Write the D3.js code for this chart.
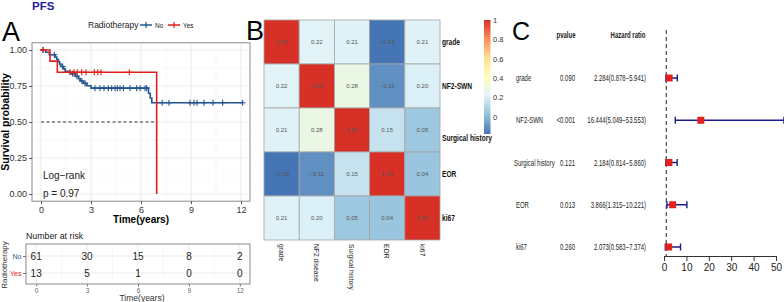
<!DOCTYPE html>
<html>
<head>
<meta charset="utf-8">
<script src="https://cdn.jsdelivr.net/npm/d3@7"></script>
<style>
  body { margin: 0; background: #fff; }
  text { font-family: 'Liberation Sans', Arial, sans-serif; }
</style>
</head>
<body>
<script>
// ---- Panel A: Kaplan-Meier data ----
var timeTicks = [0, 3, 6, 9, 12];
var survTicks = [0, 0.25, 0.5, 0.75, 1];
var noTime = [0, 0.28, 0.5, 0.85, 0.95, 1.05, 1.12, 1.2, 1.35, 1.45, 1.75, 2.05, 2.25, 2.35, 2.55, 2.75, 3.0, 6.45, 6.55, 6.65, 12.1];
var noSurv = [1, 0.984, 0.967, 0.951, 0.934, 0.918, 0.902, 0.885, 0.869, 0.852, 0.835, 0.818, 0.801, 0.785, 0.768, 0.752, 0.735, 0.70, 0.667, 0.634, 0.634];
var noCensor = [0.12, 0.8, 1.3, 1.9, 2.15, 2.45, 2.65, 3.24, 3.54, 3.78, 4.04, 4.24, 4.44, 4.58, 4.74, 4.94, 5.34, 5.74, 5.94, 6.24, 6.34, 7.27, 7.68, 8.94, 9.18, 9.36, 9.78, 10.32, 10.9, 12.1];
var yesTime = [0, 0.54, 0.98, 6.94];
var yesSurv = [1, 0.923, 0.846, 0];
var yesCensor = [0.12, 1.74, 1.98, 2.18, 2.44, 2.7, 3.2, 3.4, 3.6, 5.3];
var medianTime = 6.94;
var riskGroups = ["No", "Yes"];
var noRisk = [61, 30, 15, 8, 2];
var yesRisk = [13, 5, 1, 0, 0];

// ---- Panel B: correlation matrix ----
var rowVars = ["grade", "NF2-SWN", "Surgical history", "EOR", "ki67"];
var colVars = ["grade", "NF2 disease", "Surgical history", "EOR", "ki67"];
var corr = [
  [1.00, 0.22, 0.21, -0.18, 0.21],
  [0.22, 1.00, 0.28, -0.11, 0.20],
  [0.21, 0.28, 1.00, 0.15, 0.05],
  [-0.18, -0.11, 0.15, 1.00, 0.04],
  [0.21, 0.20, 0.05, 0.04, 1.00]
];
var legendTicks = [0, 0.2, 0.4, 0.6, 0.8, 1];

// ---- Panel C: Cox regression ----
var pvalues = ["0.090", "<0.001", "0.121", "0.013", "0.260"];
var hr = [2.284, 16.444, 2.184, 3.866, 2.073];
var hrLow = [0.878, 5.049, 0.814, 1.315, 0.583];
var hrHigh = [5.941, 53.553, 5.860, 10.221, 7.374];
var hrTicks = [0, 10, 20, 30, 40, 50];

var blue = "#25558f", red = "#e3211c";

var svg = d3.select("body").append("svg")
  .attr("width", 784).attr("height", 302);

// condensed text: no narrow font installed, so squeeze horizontally
function ntext(g, x, y, str, size, sx, anchor) {
  return g.append("text")
    .attr("transform", "translate(" + x + "," + y + ") scale(" + sx + ",1)")
    .attr("font-size", size).attr("text-anchor", anchor || "start").attr("fill", "#222")
    .text(str);
}

// ================= Panel A =================
var x = d3.scaleLinear().domain([-0.54, 12.54]).range([32, 250]);
var y = d3.scaleLinear().domain([-0.05, 1.05]).range([201.2, 42.8]);

svg.append("text").attr("x", 32).attr("y", 10)
  .attr("font-weight", "bold").attr("font-size", 11.5).attr("fill", "#1e1e9c").text("PFS");
svg.append("text").attr("x", 2).attr("y", 41).attr("font-size", 27).text("A");

// legend
var lg = svg.append("g").attr("font-size", 8.5).attr("fill", "#222");
lg.append("text").attr("x", 88).attr("y", 28).text("Radiotherapy");
[[blue, "No", 140], [red, "Yes", 168]].forEach(function(d) {
  lg.append("line").attr("x1", d[2]).attr("x2", d[2] + 12).attr("y1", 25).attr("y2", 25)
    .attr("stroke", d[0]).attr("stroke-width", 1.5);
  lg.append("path").attr("d", "M" + (d[2] + 6) + ",22v6").attr("stroke", d[0]).attr("stroke-width", 1.2);
  lg.append("text").attr("x", d[2] + 15).attr("y", 27.5).attr("font-size", 6.5).text(d[1]);
});

// grid
var gA = svg.append("g");
var minorX = timeTicks.slice(1).map(function(d) { return d - 1.5; });
var minorY = survTicks.slice(1).map(function(d) { return d - 0.125; });
gA.selectAll(".mx").data(minorX).enter().append("line")
  .attr("x1", x).attr("x2", x).attr("y1", y.range()[0]).attr("y2", y.range()[1])
  .attr("stroke", "#f2f2f2").attr("stroke-width", 0.6);
gA.selectAll(".my").data(minorY).enter().append("line")
  .attr("y1", y).attr("y2", y).attr("x1", x.range()[0]).attr("x2", x.range()[1])
  .attr("stroke", "#f2f2f2").attr("stroke-width", 0.6);
gA.selectAll(".gx").data(timeTicks).enter().append("line")
  .attr("x1", x).attr("x2", x).attr("y1", y.range()[0]).attr("y2", y.range()[1])
  .attr("stroke", "#e6e6e6").attr("stroke-width", 0.8);
gA.selectAll(".gy").data(survTicks).enter().append("line")
  .attr("y1", y).attr("y2", y).attr("x1", x.range()[0]).attr("x2", x.range()[1])
  .attr("stroke", "#e6e6e6").attr("stroke-width", 0.8);

// median lines
gA.append("path")
  .attr("d", "M" + x(0) + "," + y(0.5) + "H" + x(medianTime) + "V" + y(0))
  .attr("fill", "none").attr("stroke", "#222").attr("stroke-width", 0.9).attr("stroke-dasharray", "3,2.5");

// curves
var km = d3.line().x(function(d) { return x(d[0]); }).y(function(d) { return y(d[1]); }).curve(d3.curveStepAfter);
function stepAt(times, surv, t) {
  var i = d3.bisectRight(times, t) - 1;
  return surv[Math.max(0, i)];
}
function drawGroup(times, surv, cens, col) {
  gA.append("path").datum(d3.zip(times, surv)).attr("d", km)
    .attr("fill", "none").attr("stroke", col).attr("stroke-width", 1.6);
  gA.selectAll(null).data(cens).enter().append("path")
    .attr("d", function(t) {
      var cx = x(t), cy = y(stepAt(times, surv, t));
      return "M" + (cx - 3) + "," + cy + "H" + (cx + 3) + "M" + cx + "," + (cy - 3) + "V" + (cy + 3);
    })
    .attr("stroke", col).attr("stroke-width", 1.1);
}
drawGroup(noTime, noSurv, noCensor, blue);
drawGroup(yesTime, yesSurv, yesCensor, red);

// border
gA.append("rect").attr("x", 32).attr("y", 42.8).attr("width", 218).attr("height", 158.4)
  .attr("fill", "none").attr("stroke", "#8a8a8a").attr("stroke-width", 1);

// axes
var axL = svg.append("g").attr("transform", "translate(32,0)")
  .call(d3.axisLeft(y).tickValues(survTicks).tickFormat(d3.format(".2f")).tickSize(3).tickPadding(2));
var axB = svg.append("g").attr("transform", "translate(0,201.2)")
  .call(d3.axisBottom(x).tickValues(timeTicks).tickSize(3).tickPadding(2));
[axL, axB].forEach(function(a) {
  a.select(".domain").remove();
  a.selectAll("line").attr("stroke", "#555");
  a.selectAll("text").attr("font-size", 9).attr("fill", "#333").attr("font-family", "'Liberation Sans', Arial, sans-serif");
});
svg.append("text").attr("transform", "translate(9,122) rotate(-90)").attr("text-anchor", "middle")
  .attr("font-weight", "bold").attr("font-size", 10.5).text("Survival probability");
svg.append("text").attr("x", 141).attr("y", 223).attr("text-anchor", "middle")
  .attr("font-weight", "bold").attr("font-size", 10).text("Time(years)");
svg.append("text").attr("x", 43).attr("y", 179).attr("font-size", 10).attr("fill", "#222").text("Log\u2212rank");
svg.append("text").attr("x", 43).attr("y", 197).attr("font-size", 10).attr("fill", "#222").text("p = 0.97");

// risk table
var tx = d3.scaleLinear().domain([-0.6, 12.6]).range([26, 250]);
var ty = d3.scalePoint().domain(riskGroups).range([256, 273]);
svg.append("text").attr("x", 26).attr("y", 239).attr("font-size", 8.8).attr("fill", "#222").text("Number at risk");
var gT = svg.append("g");
gT.selectAll(".tm").data(minorX).enter().append("line")
  .attr("x1", tx).attr("x2", tx).attr("y1", 244).attr("y2", 284).attr("stroke", "#f2f2f2").attr("stroke-width", 0.6);
gT.selectAll(".tg").data(timeTicks).enter().append("line")
  .attr("x1", tx).attr("x2", tx).attr("y1", 244).attr("y2", 284).attr("stroke", "#e6e6e6").attr("stroke-width", 0.8);
gT.selectAll(".th").data(riskGroups).enter().append("line")
  .attr("y1", ty).attr("y2", ty).attr("x1", 26).attr("x2", 250).attr("stroke", "#e6e6e6").attr("stroke-width", 0.8);
[[noRisk, "No"], [yesRisk, "Yes"]].forEach(function(g) {
  gT.selectAll(null).data(g[0]).enter().append("text")
    .attr("x", function(d, i) { return tx(timeTicks[i]); }).attr("y", ty(g[1]) + 3.6)
    .attr("text-anchor", "middle").attr("font-size", 10).attr("fill", "#222").text(function(d) { return d; });
});
gT.append("rect").attr("x", 26).attr("y", 244).attr("width", 224).attr("height", 40)
  .attr("fill", "none").attr("stroke", "#8a8a8a").attr("stroke-width", 1);
var tL = svg.append("g").attr("transform", "translate(26,0)")
  .call(d3.axisLeft(ty).tickSize(3).tickPadding(1.5));
tL.select(".domain").remove();
tL.selectAll("line").attr("stroke", "#777");
tL.selectAll("text").attr("font-size", 7).attr("font-family", "'Liberation Sans', Arial, sans-serif")
  .attr("fill", function(d) { return d === "No" ? blue : red; });
var tB = svg.append("g").attr("transform", "translate(0,284)")
  .call(d3.axisBottom(tx).tickValues(timeTicks).tickSize(2.5).tickPadding(1.5));
tB.select(".domain").remove();
tB.selectAll("line").attr("stroke", "#777");
tB.selectAll("text").attr("font-size", 6.5).attr("fill", "#666").attr("font-family", "'Liberation Sans', Arial, sans-serif");
svg.append("text").attr("transform", "translate(7,265) rotate(-90)").attr("text-anchor", "middle")
  .attr("font-size", 8).attr("fill", "#333").text("Radiotherapy");
svg.append("text").attr("x", 142).attr("y", 301).attr("text-anchor", "middle")
  .attr("font-size", 8.5).attr("fill", "#333").text("Time(years)");

// ================= Panel B =================
svg.append("text").attr("x", 246).attr("y", 40).attr("font-size", 27).text("B");
var bx = d3.scaleBand().domain(d3.range(colVars.length)).range([264, 440]);
var by = d3.scaleBand().domain(d3.range(rowVars.length)).range([20, 240]);
var palette = ["#4575B4", "#91BFDB", "#E0F3F8", "#FFFFBF", "#FEE090", "#FC8D59", "#D73027"];
var cmin = -0.18, cmax = 1;
var color = d3.scaleLinear()
  .domain(palette.map(function(d, i) { return cmin + i * (cmax - cmin) / (palette.length - 1); }))
  .range(palette);

var cells = [];
corr.forEach(function(row, i) { row.forEach(function(v, j) { cells.push({ i: i, j: j, v: v }); }); });
var gB = svg.append("g");
gB.selectAll("rect").data(cells).enter().append("rect")
  .attr("x", function(d) { return bx(d.j); }).attr("y", function(d) { return by(d.i); })
  .attr("width", bx.bandwidth()).attr("height", by.bandwidth())
  .attr("fill", function(d) { return color(d.v); })
  .attr("stroke", "#a6a6a6").attr("stroke-width", 0.8);
gB.selectAll("text").data(cells).enter().append("text")
  .attr("x", function(d) { return bx(d.j) + bx.bandwidth() / 2; })
  .attr("y", function(d) { return by(d.i) + by.bandwidth() / 2 + 2; })
  .attr("text-anchor", "middle").attr("font-size", 6).attr("fill", "#555")
  .text(function(d) { return d3.format(".2f")(d.v).replace("-", "\u2212"); });

var rowNudge = [0, 0, 8, 0, 0];
var gRL = svg.append("g").attr("font-weight", "bold");
rowVars.forEach(function(d, i) {
  ntext(gRL, 442, by(i) + by.bandwidth() / 2 + 3 + rowNudge[i], d, 8.5, 0.78).attr("fill", "#111");
});
var gCL = svg.append("g");
colVars.forEach(function(d, i) {
  gCL.append("text")
    .attr("transform", "translate(" + (bx(i) + bx.bandwidth() / 2 - 2.8) + ",244) rotate(90) scale(0.86,1)")
    .attr("font-size", 7.8).attr("fill", "#222").text(d);
});

// colour key
var ly = d3.scaleLinear().domain([cmin, cmax]).range([134, 20]);
var defs = svg.append("defs");
var grad = defs.append("linearGradient").attr("id", "cgrad").attr("x1", 0).attr("x2", 0).attr("y1", 1).attr("y2", 0);
palette.forEach(function(c, i) {
  grad.append("stop").attr("offset", i / (palette.length - 1)).attr("stop-color", c);
});
svg.append("rect").attr("x", 484).attr("y", 20).attr("width", 6.5).attr("height", 114).attr("fill", "url(#cgrad)");
svg.append("g").selectAll("text").data(legendTicks).enter().append("text")
  .attr("x", 493).attr("y", function(d) { return ly(d) + 3; })
  .attr("font-size", 7.5).attr("fill", "#333").text(function(d) { return d; });

// ================= Panel C =================
svg.append("text").attr("x", 512).attr("y", 40).attr("font-size", 25).text("C");
var fx = d3.scaleLinear().domain([0, 50]).range([664, 776]);
var fy = d3.scalePoint().domain(rowVars).range([78, 247]);
var gC = svg.append("g");
var gH = gC.append("g").attr("font-weight", "bold");
ntext(gH, 566, 38, "pvalue", 8.4, 0.72, "middle");
ntext(gH, 628, 38, "Hazard ratio", 8.4, 0.72, "middle");
rowVars.forEach(function(v, i) {
  var yy = fy(v) + 3;
  ntext(gC, v === "Surgical history" ? 514 : 516, yy, v, 8.5, 0.7);
  ntext(gC, 575, yy, pvalues[i], 8.5, 0.7, "end");
  ntext(gC, 646, yy, hr[i].toFixed(3) + "(" + hrLow[i].toFixed(3) + "\u2212" + hrHigh[i].toFixed(3) + ")", 8.5, 0.7, "end");
});
gC.append("line").attr("x1", fx(1)).attr("x2", fx(1)).attr("y1", 30).attr("y2", 256)
  .attr("stroke", "#222").attr("stroke-width", 1).attr("stroke-dasharray", "4,3");
rowVars.forEach(function(v, i) {
  var yy = fy(v), navy = "#1c1c8c";
  gC.append("path")
    .attr("d", "M" + fx(hrLow[i]) + "," + yy + "H" + fx(hrHigh[i]) +
      "M" + fx(hrLow[i]) + "," + (yy - 3.5) + "V" + (yy + 3.5) +
      "M" + fx(hrHigh[i]) + "," + (yy - 3.5) + "V" + (yy + 3.5))
    .attr("stroke", navy).attr("stroke-width", 1.4).attr("fill", "none");
  gC.append("rect").attr("x", fx(hr[i]) - 3.5).attr("y", yy - 3.5).attr("width", 7).attr("height", 7).attr("fill", red);
});
var fA = svg.append("g").attr("transform", "translate(0,256)")
  .call(d3.axisBottom(fx).tickValues(hrTicks).tickSize(5).tickSizeOuter(0).tickPadding(3));
fA.selectAll("line,path").attr("stroke", "#333");
fA.selectAll("text").attr("font-size", 10).attr("fill", "#222").attr("font-family", "'Liberation Sans', Arial, sans-serif");
</script>
</body>
</html>
